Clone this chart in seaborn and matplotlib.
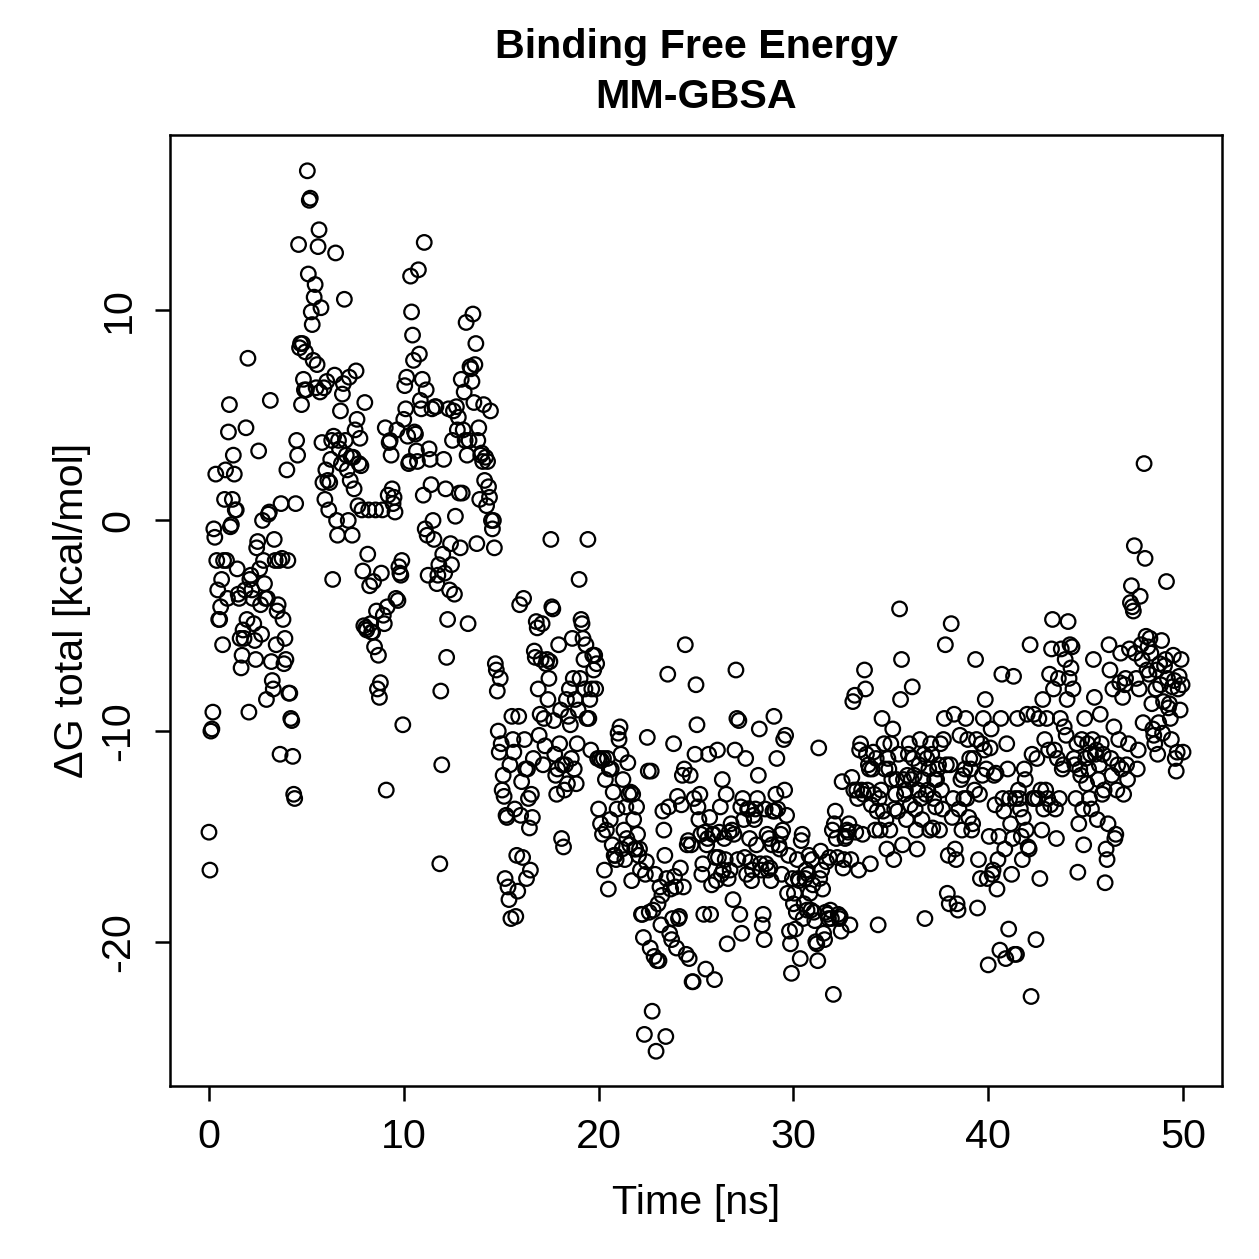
import numpy as np
import pandas as pd
import seaborn as sns
import matplotlib
matplotlib.use("Agg")
import matplotlib.pyplot as plt

# ΔG total [kcal/mol], one frame every 0.05 ns
dg_00_10 = [
    -14.8,-16.6,-10.0,-9.9,-9.1,-0.4,-0.8,2.2,-1.9,-3.3,-4.7,-4.7,-4.1,-2.8,-5.9,-1.9,1.0,2.4,-1.9,-3.7,
    4.2,5.5,-0.3,-0.2,1.0,3.1,2.2,0.5,0.5,-2.3,-3.5,-3.7,-5.6,-7.0,-6.4,-5.2,-5.6,-3.3,4.4,-4.7,
    7.7,-9.1,-2.8,-2.6,-3.3,-3.7,-4.9,-5.7,-6.6,-1.3,-1.0,3.3,-2.3,-4.0,-5.4,0.0,-1.9,-3.0,-3.7,-8.5,
    -3.7,0.3,0.4,5.7,-6.7,-7.6,-8.0,-0.9,-1.9,-5.9,-4.3,-4.0,-1.9,-11.1,0.8,-1.8,-4.7,-6.8,-5.6,-6.6,
    2.4,-1.9,-8.2,-8.2,-9.4,-9.5,-11.2,-13.0,-13.2,0.8,3.8,3.1,13.1,8.2,8.4,5.5,8.4,6.7,6.2,8.0,
    6.2,16.6,11.7,15.2,15.3,9.9,9.3,7.6,10.6,11.2,6.3,7.4,13.0,13.8,6.1,10.1,3.7,1.8,6.3,1.0,
    2.4,6.6,1.9,0.5,1.8,2.9,3.8,-2.8,4.0,6.9,12.7,0.0,-0.7,3.8,3.4,5.2,2.7,6.0,6.5,10.5,
    3.8,3.1,2.4,0.0,6.8,1.9,3.0,-0.7,3.0,1.5,4.3,7.1,4.8,0.7,2.7,3.9,2.6,0.5,-2.4,-5.0,
    5.6,-5.1,-5.2,-1.6,0.5,-3.1,-4.9,-5.3,-5.3,-2.9,-6.0,0.5,-4.3,-8.0,-6.4,-8.4,-7.7,-2.5,0.5,-4.5,
    -4.9,4.4,-12.8,-4.1,1.2,3.7,3.8,3.1,1.5,0.8,1.1,0.4,-3.7,4.3,-3.8,-2.2,-2.5,-2.6,-1.9,-9.7,
]
dg_10_20 = [
    4.8,6.4,5.3,6.8,4.0,2.7,2.8,11.6,9.9,8.8,7.6,4.2,4.1,3.3,2.8,11.9,7.9,5.7,5.3,6.7,
    1.2,13.2,-0.4,6.2,-0.7,-2.6,3.4,2.9,1.7,5.3,0.0,-0.9,5.4,5.4,-3.0,-2.6,-2.1,-16.3,-8.1,-11.6,
    -1.6,2.9,-2.5,1.5,-6.5,-4.7,5.3,-3.3,-1.1,-2.1,3.8,5.2,-3.5,0.2,5.4,4.3,4.9,1.3,-1.3,6.7,
    1.3,4.3,6.1,3.8,9.4,3.1,-4.9,3.8,7.3,7.2,6.6,9.8,5.6,7.4,8.4,-1.1,3.8,4.4,1.0,3.1,
    3.2,2.8,5.5,1.9,3.0,0.7,2.8,1.6,1.1,5.2,0.0,-0.4,0.0,-1.3,-6.8,-7.1,-8.1,-10.0,-11.0,-7.5,
    -10.6,-12.8,-12.1,-13.1,-17.0,-14.0,-14.1,-17.4,-18.0,-11.6,-18.9,-9.3,-10.4,-11.0,-13.7,-18.8,-15.9,-17.6,-9.3,-4.0,
    -14.0,-12.4,-16.0,-3.7,-10.4,-11.8,-17.0,-11.8,-13.2,-14.6,-16.6,-13.0,-14.1,-11.3,-6.2,-6.5,-4.8,-5.1,-8.0,-10.2,
    -9.2,-6.6,-4.9,-11.6,-9.4,-10.7,-6.8,-6.6,-8.5,-7.5,-6.7,-0.9,-4.1,-4.2,-9.5,-11.1,-12.1,-13.0,-11.8,-5.9,
    -10.6,-9.0,-15.1,-11.6,-15.5,-12.8,-11.6,-8.5,-12.5,-9.3,-8.0,-9.7,-11.3,-5.6,-7.5,-11.8,-8.5,-12.5,-10.6,-9.0,
    -2.8,-7.5,-4.7,-4.9,-5.6,-6.6,-8.0,-5.9,-9.4,-0.9,-9.4,-8.5,-10.9,-8.0,-6.4,-7.1,-6.4,-8.0,-6.8,-11.3,
]
dg_20_30 = [
    -13.7,-11.3,-14.4,-11.4,-14.9,-11.3,-16.6,-12.3,-14.7,-11.3,-17.5,-11.8,-14.2,-11.8,-15.4,-12.9,-15.9,-15.9,-16.1,-13.7,
    -10.1,-10.4,-9.8,-11.1,-15.6,-12.3,-14.7,-16.1,-13.6,-15.1,-11.5,-13.0,-15.4,-12.9,-17.1,-13.0,-14.2,-15.6,-15.6,-13.6,
    -14.9,-15.9,-15.6,-16.6,-18.7,-18.7,-19.8,-24.4,-16.8,-16.2,-10.3,-11.9,-18.6,-20.3,-11.9,-23.3,-18.5,-20.7,-16.8,-25.2,
    -20.9,-18.2,-20.9,-17.4,-19.2,-17.8,-13.8,-14.7,-15.9,-24.5,-17.0,-7.3,-13.6,-19.6,-17.5,-19.9,-18.9,-10.6,-16.9,-17.4,
    -20.3,-13.1,-18.9,-18.8,-16.5,-13.5,-12.1,-17.4,-11.8,-5.9,-20.6,-15.4,-15.2,-20.8,-12.1,-15.4,-21.9,-21.9,-13.2,-11.1,
    -7.8,-9.7,-13.6,-14.2,-13.0,-14.9,-16.8,-16.3,-18.7,-14.8,-21.3,-15.4,-15.1,-11.1,-14.1,-18.7,-17.3,-14.9,-14.9,-21.8,
    -16.0,-17.1,-10.9,-16.0,-14.8,-13.6,-16.8,-12.3,-16.6,-15.1,-16.1,-13.0,-20.1,-17.0,-14.8,-16.6,-14.4,-14.7,-18.0,-14.9,
    -10.9,-7.1,-9.4,-16.1,-9.5,-18.7,-13.6,-19.6,-13.2,-14.2,-16.0,-11.3,-16.8,-13.7,-13.7,-15.1,-16.2,-17.1,-16.6,-14.0,
    -14.2,-13.7,-15.4,-13.2,-12.1,-9.9,-16.3,-16.6,-19.2,-18.7,-19.9,-13.7,-16.3,-14.9,-16.6,-15.1,-16.5,-17.1,-15.4,-13.8,
    -9.3,-13.8,-13.0,-11.3,-13.7,-15.4,-15.6,-14.9,-16.8,-14.7,-10.4,-12.8,-10.2,-14.0,-17.7,-15.9,-19.5,-20.1,-21.5,-17.0,
]
dg_30_40 = [
    -18.2,-17.7,-19.4,-18.6,-16.1,-17.0,-17.1,-20.8,-15.2,-14.9,-18.9,-18.2,-17.0,-16.6,-18.5,-16.8,-15.9,-17.7,-18.5,-16.1,
    -17.3,-18.6,-19.0,-20.0,-20.1,-20.9,-10.8,-17.0,-15.7,-16.6,-17.5,-19.6,-19.9,-18.6,-16.2,-18.7,-18.9,-16.0,-18.5,-18.9,
    -14.7,-22.5,-14.4,-13.8,-15.1,-16.0,-18.7,-18.9,-18.8,-19.5,-12.4,-16.5,-16.1,-15.1,-15.0,-14.7,-14.8,-14.4,-19.2,-16.1,
    -12.2,-8.6,-12.8,-8.3,-14.8,-12.8,-13.2,-16.6,-10.9,-10.6,-12.8,-14.9,-13.0,-7.1,-8.0,-11.1,-12.8,-11.6,-11.8,-16.3,
    -13.5,-11.8,-11.0,-13.0,-14.7,-11.3,-13.8,-19.2,-13.2,-14.7,-12.8,-9.4,-13.8,-10.6,-11.8,-14.2,-15.6,-11.3,-11.8,-14.7,
    -10.6,-12.3,-9.9,-16.1,-13.7,-13.0,-12.3,-13.8,-11.1,-4.2,-8.5,-6.6,-15.4,-12.3,-13.0,-12.8,-14.2,-12.1,-11.1,-10.6,
    -13.5,-12.3,-7.9,-11.3,-12.1,-13.7,-14.7,-15.6,-12.8,-11.6,-10.4,-13.2,-14.2,-12.3,-11.1,-18.9,-13.0,-11.3,-12.8,-11.8,
    -14.7,-10.6,-11.1,-14.6,-13.2,-12.3,-13.6,-12.3,-11.8,-11.6,-14.7,-10.6,-12.8,-13.7,-10.4,-9.4,-5.9,-11.6,-17.7,-15.9,
    -18.2,-11.6,-4.9,-14.1,-13.2,-9.2,-15.6,-16.1,-18.2,-18.5,-13.7,-10.2,-12.3,-14.7,-12.1,-13.2,-11.8,-9.4,-13.2,-10.4,
    -14.1,-11.3,-11.8,-14.7,-14.4,-11.3,-12.8,-6.6,-10.4,-18.4,-16.1,-13.0,-17.0,-10.6,-12.1,-9.4,-10.9,-8.5,-11.8,-17.0,
]
dg_40_50 = [
    -21.1,-15.0,-10.8,-9.9,-16.8,-16.6,-12.1,-13.5,-12.0,-17.5,-16.1,-15.0,-20.4,-9.4,-7.3,-13.2,-13.8,-15.6,-20.8,-10.6,
    -11.8,-19.4,-13.2,-14.4,-16.8,-15.1,-7.4,-20.6,-13.2,-20.6,-9.4,-12.8,-13.2,-13.7,-15.0,-16.1,-14.1,-11.8,-12.3,-14.7,
    -9.2,-15.5,-15.6,-5.9,-22.6,-11.1,-13.2,-9.2,-13.2,-19.9,-11.3,-13.2,-9.4,-17.0,-12.8,-14.7,-8.5,-13.7,-10.4,-12.8,
    -9.4,-13.2,-10.9,-7.3,-13.5,-6.1,-4.7,-8.0,-10.9,-13.7,-15.1,-11.3,-7.5,-13.2,-9.4,-6.1,-11.8,-11.6,-9.8,-6.6,
    -10.2,-8.5,-4.8,-7.5,-5.9,-7.0,-6.0,-8.0,-11.3,-11.6,-13.2,-10.6,-16.7,-14.4,-11.8,-12.1,-10.4,-13.7,-15.4,-9.4,
    -11.3,-12.5,-10.6,-11.8,-13.2,-11.1,-13.7,-10.4,-6.6,-8.4,-11.1,-10.9,-14.2,-12.3,-11.6,-9.2,-10.6,-13.0,-11.1,-12.8,
    -17.2,-15.6,-16.1,-14.4,-5.9,-7.1,-11.3,-12.1,-8.0,-9.8,-15.1,-14.9,-12.8,-11.6,-10.4,-7.7,-6.3,-11.8,-8.4,-13.0,
    -7.8,-7.5,-11.6,-12.3,-10.6,-6.1,-3.9,-3.1,-4.1,-4.3,-1.2,-6.3,-7.5,-11.8,-10.9,-8.0,-3.6,-5.9,-6.6,-9.6,
    2.7,-1.8,-5.5,-7.1,-6.0,-7.3,-5.6,-6.3,-8.7,-9.9,-10.2,-10.6,-8.0,-7.1,-11.1,-9.6,-6.8,-7.8,-5.7,-10.1,
    -8.6,-6.9,-6.6,-2.9,-7.5,-8.9,-8.7,-9.4,-10.4,-7.9,-6.4,-7.6,-11.3,-11.9,-11.0,-8.0,-7.4,-9.0,-6.6,-7.8,
    -11.0,
]
frame_step_ns = 0.05
x_ticks = [0, 10, 20, 30, 40, 50]
y_ticks = [-20, -10, 0, 10]
title_lines = ["Binding Free Energy", "MM-GBSA"]
x_label = "Time [ns]"
y_label = "ΔG total [kcal/mol]"

dg = np.array(dg_00_10 + dg_10_20 + dg_20_30 + dg_30_40 + dg_40_50)
time = np.arange(len(dg)) * frame_step_ns
df = pd.DataFrame({"time": time, "dg": dg})

sns.set_theme(style="ticks")
plt.rcParams["font.family"] = ["Liberation Sans", "DejaVu Sans"]
plt.rcParams["axes.linewidth"] = 1.0

W = 1259
fig = plt.figure(figsize=(W / 180, W / 180), dpi=180)
ax = fig.add_axes([170 / W, 1 - 1086 / W, (1222 - 170) / W, (1086 - 135) / W])

sns.scatterplot(data=df, x="time", y="dg", ax=ax, marker="o", s=34,
                facecolor="none", edgecolor="black", linewidth=0.9, legend=False)

FS = 16.5
ax.set_xlim(-2, 52)
ax.set_ylim(-26.85, 18.3)
ax.set_xticks(x_ticks)
ax.set_yticks(y_ticks)
ax.set_yticklabels([str(t) for t in y_ticks], rotation=90, va="center")
ax.tick_params(axis="both", direction="out", length=6, width=1.0,
               labelsize=FS, color="black", labelcolor="black", pad=7)
for sp in ax.spines.values():
    sp.set_color("black")
    sp.set_linewidth(1.0)

ax.set_xlabel(x_label, fontsize=FS, color="black", va="center")
ax.set_ylabel(y_label, fontsize=FS, color="black", va="center")
ax.xaxis.set_label_coords(0.5, (1086 - 1203) / (1086 - 135))
ax.yaxis.set_label_coords((72 - 170) / (1222 - 170), 0.5)

cx = 0.5 * (170 + 1222) / W
fig.text(cx, 1 - 47 / W, title_lines[0], ha="center", va="center",
         fontsize=FS, fontweight="bold", color="black")
fig.text(cx, 1 - 97 / W, title_lines[1], ha="center", va="center",
         fontsize=FS, fontweight="bold", color="black")

fig.savefig("out.png", dpi=180, facecolor="white")
